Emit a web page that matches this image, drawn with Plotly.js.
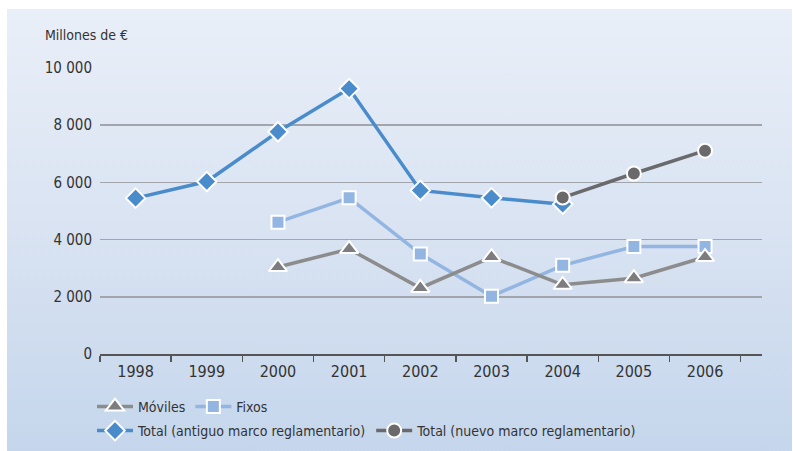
<!DOCTYPE html>
<html>
<head>
<meta charset="utf-8">
<script src="https://cdn.plot.ly/plotly-3.0.1.min.js"></script>
<style>
  body { margin: 0; background: #fff; }
  #wrap { position: relative; width: 793px; height: 451px; background: #fff; }
  #panel { position: absolute; left: 7px; top: 9px; width: 785px; height: 442px;
           background: linear-gradient(to bottom, #e9eff8 0%, #d9e3f2 50%, #c5d6ec 100%); }
  #grafico { position: absolute; left: 0; top: 0; width: 793px; height: 451px; }
</style>
</head>
<body>
<div id="wrap">
  <div id="panel"></div>
  <div id="grafico"></div>
</div>
<script>
const anos = ["1998", "1999", "2000", "2001", "2002", "2003", "2004", "2005", "2006"];

// Millones de euros
const anosMoviles = ["2000", "2001", "2002", "2003", "2004", "2005", "2006"];
const moviles = [3040, 3670, 2310, 3390, 2420, 2650, 3390];

const anosFixos = ["2000", "2001", "2002", "2003", "2004", "2005", "2006"];
const fixos = [4610, 5460, 3500, 2020, 3100, 3760, 3760];

const anosAntiguo = ["1998", "1999", "2000", "2001", "2002", "2003", "2004"];
const totalAntiguo = [5450, 6030, 7770, 9280, 5720, 5460, 5240];

const anosNuevo = ["2004", "2005", "2006"];
const totalNuevo = [5470, 6310, 7110];

const fonte = "'Liberation Sans Narrow', 'DejaVu Sans Condensed', 'Arial Narrow', sans-serif";

const tracoFixos = {
  type: 'scatter',
  mode: 'lines+markers',
  name: 'Fixos',
  x: anosFixos,
  y: fixos,
  legend: 'legend',
  legendrank: 2,
  line: { color: '#93b5e1', width: 3.5 },
  marker: { symbol: 'square', size: 13, color: '#93b5e1', line: { color: '#ffffff', width: 2 } }
};

const tracoMoviles = {
  type: 'scatter',
  mode: 'lines+markers',
  name: 'Móviles',
  x: anosMoviles,
  y: moviles,
  legend: 'legend',
  legendrank: 1,
  line: { color: '#8c8c8c', width: 3.5 },
  marker: { symbol: 'triangle-up', size: 16, color: '#7d7d7f', line: { color: '#ffffff', width: 2 } }
};

const tracoAntiguo = {
  type: 'scatter',
  mode: 'lines+markers',
  name: 'Total (antiguo marco reglamentario)',
  x: anosAntiguo,
  y: totalAntiguo,
  legend: 'legend2',
  legendrank: 1,
  line: { color: '#4a8ccb', width: 3.5 },
  marker: { symbol: 'diamond', size: 15, color: '#4a8ccb', line: { color: '#ffffff', width: 2 } }
};

const tracoNuevo = {
  type: 'scatter',
  mode: 'lines+markers',
  name: 'Total (nuevo marco reglamentario)',
  x: anosNuevo,
  y: totalNuevo,
  legend: 'legend2',
  legendrank: 2,
  line: { color: '#6a6a6c', width: 3.5 },
  marker: { symbol: 'circle', size: 14, color: '#6a6a6c', line: { color: '#ffffff', width: 2 } }
};

const layout = {
  width: 793,
  height: 451,
  paper_bgcolor: 'rgba(0,0,0,0)',
  plot_bgcolor: 'rgba(0,0,0,0)',
  separators: ', ',
  font: { family: fonte, size: 16, color: '#333333' },
  margin: { l: 100, r: 31, t: 68, b: 97 },
  title: {
    text: 'Millones de €',
    xref: 'container', yref: 'container',
    x: 45 / 793, xanchor: 'left',
    y: 1 - 35 / 451, yanchor: 'middle',
    font: { family: fonte, size: 14, color: '#333333' }
  },
  xaxis: {
    type: 'category',
    categoryorder: 'array',
    categoryarray: anos,
    range: [-0.5, 8.8],
    tickson: 'boundaries',
    ticks: 'outside',
    ticklen: 6,
    tickwidth: 1.5,
    tickcolor: '#555555',
    ticklabelstandoff: 2,
    showline: true,
    linecolor: '#555555',
    linewidth: 1.5,
    showgrid: false,
    zeroline: false,
    fixedrange: true
  },
  yaxis: {
    range: [0, 10000],
    tickvals: [0, 2000, 4000, 6000, 8000, 10000],
    tickformat: ',d',
    tickfont: { family: fonte, size: 15, color: '#333333' },
    showgrid: true,
    gridcolor: '#a3a5ad',
    gridwidth: 1.5,
    zeroline: false,
    showline: false,
    ticks: '',
    ticklabelstandoff: 7,
    fixedrange: true
  },
  showlegend: true,
  legend: {
    orientation: 'h',
    xref: 'container', yref: 'container',
    x: 92 / 793, xanchor: 'left',
    y: 1 - 391 / 451, yanchor: 'top',
    bgcolor: 'rgba(0,0,0,0)',
    traceorder: 'normal',
    itemwidth: 36,
    font: { family: fonte, size: 14, color: '#333333' }
  },
  legend2: {
    orientation: 'h',
    xref: 'container', yref: 'container',
    x: 92 / 793, xanchor: 'left',
    y: 1 - 415 / 451, yanchor: 'top',
    bgcolor: 'rgba(0,0,0,0)',
    traceorder: 'normal',
    itemwidth: 36,
    font: { family: fonte, size: 14, color: '#333333' }
  }
};

Plotly.newPlot('grafico', [tracoFixos, tracoMoviles, tracoAntiguo, tracoNuevo], layout, { displayModeBar: false, staticPlot: true });
</script>
</body>
</html>
